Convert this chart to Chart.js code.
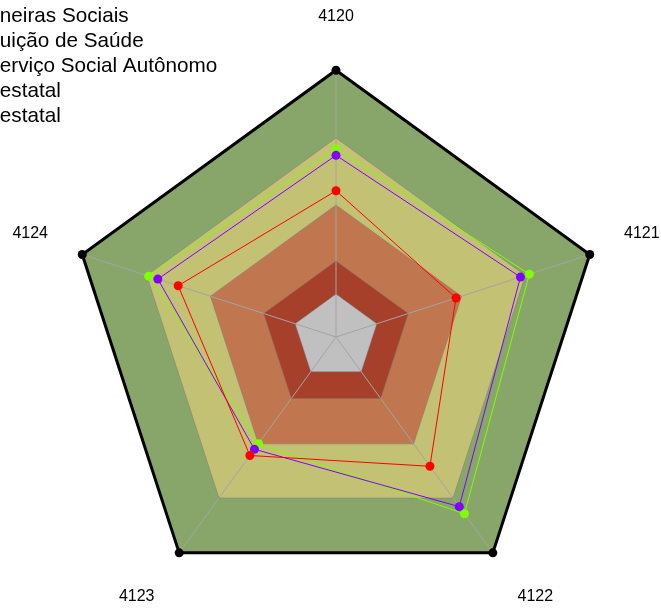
<!DOCTYPE html>
<html>
<head>
<meta charset="utf-8">
<script src="https://cdn.jsdelivr.net/npm/chart.js@4"></script>
<style>
html, body { margin: 0; padding: 0; overflow: hidden; background: #fff; }
#wrap { position: relative; width: 661px; height: 610px; overflow: hidden; }
/* canvas is a bit bigger than the page so the pentagon sits where the original has it */
#radar { position: absolute; left: -35px; top: -24px; }
</style>
</head>
<body>
<div id="wrap"><canvas id="radar" width="742" height="660"></canvas></div>
<script>
const axisLabels = ['4120', '4121', '4122', '4123', '4124'];
const legendNames = ['neiras Sociais', 'uição de Saúde', 'erviço Social Autônomo', 'estatal', 'estatal'];

const greenValues = [70.5, 76.2, 81.9, 49.4, 73.8];
const purpleValues = [68.1, 72.7, 78.6, 52.0, 70.2];
const redValues = [54.8, 47.3, 59.9, 54.9, 62.2];

// zone limits, inner to outer
const bandLimits = [16.1, 28.5, 49.5, 74.6, 100];
const bandColors = ['#c0c0c0', '#a6402b', '#c07750', '#c3c173', '#89a66a'];

function seriesLine(label, data, color) {
    return {
        label: label,
        data: data,
        borderColor: color,
        backgroundColor: color,
        borderWidth: 1,
        fill: false,
        pointRadius: 4.5,
        pointBorderWidth: 0,
        pointBackgroundColor: color
    };
}

var datasets = [
    seriesLine(legendNames[2], redValues, '#ff0000'),
    seriesLine(legendNames[1], purpleValues, '#8000ff'),
    seriesLine(legendNames[0], greenValues, '#80ff00')
];

bandLimits.forEach(function (v, i) {
    var outer = i === bandLimits.length - 1;
    datasets.push({
        label: 'zona ' + (i + 1),
        data: axisLabels.map(function () { return v; }),
        backgroundColor: bandColors[i],
        borderColor: outer ? '#000' : 'rgba(120,120,120,0.45)',
        borderWidth: outer ? 3 : 1,
        fill: 'origin',
        pointRadius: outer ? 4.5 : 0,
        pointBorderWidth: 0,
        pointBackgroundColor: '#000'
    });
});

// legend lives in the chart area; push it down to the page corner
const legendNudge = {
    id: 'legendNudge',
    afterLayout: function (chart) { chart.legend.top = 25; }
};

var ctx = document.getElementById('radar').getContext('2d');
var myChart = new Chart(ctx, {
    type: 'radar',
    data: {
        labels: axisLabels,
        datasets: datasets
    },
    plugins: [legendNudge],
    options: {
        responsive: false,
        animation: false,
        devicePixelRatio: 1,
        layout: { padding: 0 },
        scales: {
            r: {
                min: 0,
                max: 100,
                ticks: { display: false },
                grid: { display: false },
                angleLines: { color: '#a4a4a4', lineWidth: 1 },
                pointLabels: {
                    color: '#000',
                    font: { family: 'Liberation Sans, Arial, sans-serif', size: 16 },
                    padding: function (c) { return [44, 36, 42, 42, 36][c.index]; }
                }
            }
        },
        plugins: {
            filler: { drawTime: 'beforeDraw' },
            tooltip: { enabled: false },
            legend: {
                position: 'chartArea',
                align: 'start',
                labels: {
                    color: '#000',
                    font: { family: 'Liberation Sans, Arial, sans-serif', size: 20.7 },
                    boxWidth: 20,
                    padding: 4.5,
                    generateLabels: function () {
                        return legendNames.map(function (t, i) {
                            return { text: t, fillStyle: '#fff', strokeStyle: '#fff', lineWidth: 0,
                                     hidden: false, fontColor: '#000', datasetIndex: i };
                        });
                    }
                }
            }
        }
    }
});
</script>
</body>
</html>
